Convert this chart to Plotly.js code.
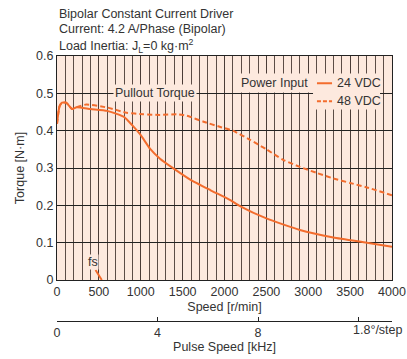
<!DOCTYPE html>
<html><head><meta charset="utf-8">
<script src="https://cdn.plot.ly/plotly-3.0.1.min.js"></script>
<style>html,body{margin:0;padding:0;background:#fff;}#chart{width:407px;height:359px;}</style>
</head><body><div id="chart"></div>
<script>
// Speed [r/min] and torque [N·m]
const speed24 = [0, 30, 60, 110, 180, 235, 400, 600, 800, 900, 1000, 1110, 1230, 1390, 1590, 1830, 2070, 2185, 2500, 2900, 3300, 3700, 4000];
const torque24 = [0.418, 0.465, 0.475, 0.475, 0.458, 0.463, 0.458, 0.453, 0.437, 0.414, 0.388, 0.352, 0.325, 0.299, 0.269, 0.241, 0.214, 0.198, 0.165, 0.134, 0.114, 0.100, 0.089];
const speed48 = [0, 30, 60, 110, 180, 235, 350, 600, 830, 1030, 1230, 1430, 1550, 1750, 1950, 2100, 2300, 2500, 2700, 2900, 3100, 3300, 3500, 3700, 4000];
const torque48 = [0.418, 0.465, 0.475, 0.475, 0.458, 0.463, 0.470, 0.462, 0.448, 0.444, 0.442, 0.444, 0.440, 0.424, 0.410, 0.400, 0.376, 0.350, 0.322, 0.303, 0.287, 0.272, 0.260, 0.248, 0.227];
const fsSpeed = [460, 535];
const fsTorque = [0.027, 0.0];
const xTicks = [0, 500, 1000, 1500, 2000, 2500, 3000, 3500, 4000];
const pulseTicks = [0, 4, 8, 12];
const pulseTickText = ['0', '4', '8', ' '];
const seriesNames = ['24 VDC', '48 VDC'];

const ORANGE = '#f36c2d';
const BG = '#fde9de';
const FONT = 'Liberation Sans, Arial, sans-serif';
const TXT = '#333';
const FS = 12.5;

const traces = [
  {x: speed24, y: torque24, type: 'scatter', mode: 'lines', name: seriesNames[0],
   line: {color: ORANGE, width: 2, shape: 'spline', smoothing: 0.5}, showlegend: false, hoverinfo: 'skip'},
  {x: speed48, y: torque48, type: 'scatter', mode: 'lines', name: seriesNames[1],
   line: {color: ORANGE, width: 2, dash: '5px,3px', shape: 'spline', smoothing: 0.5}, showlegend: false, hoverinfo: 'skip'},
  {x: fsSpeed, y: fsTorque, type: 'scatter', mode: 'lines', name: 'fs',
   line: {color: ORANGE, width: 2}, showlegend: false, hoverinfo: 'skip'},
  {x: [0], y: [null], xaxis: 'x2', yaxis: 'y', type: 'scatter', mode: 'lines', showlegend: false, hoverinfo: 'skip'}
];

const P = (px) => (321 - px) / 265; // paper y from pixel

const layout = {
  width: 407, height: 359,
  margin: {l: 57, r: 15, t: 56, b: 38, pad: 0},
  paper_bgcolor: '#ffffff', plot_bgcolor: BG,
  font: {family: FONT, size: FS, color: TXT},
  showlegend: false,
  xaxis: {
    range: [0, 4000], tickvals: xTicks, anchor: 'y',
    showgrid: true, gridcolor: '#4a3b36', gridwidth: 1,
    minor: {dtick: 100, showgrid: true, gridcolor: '#5c4c46', gridwidth: 1},
    showline: true, mirror: true, linecolor: '#222', linewidth: 1,
    zeroline: false, ticks: '', tickfont: {size: FS, color: TXT},
    title: {text: 'Speed [r/min]', font: {size: FS, color: TXT}, standoff: 4}
  },
  xaxis2: {
    overlaying: 'x', anchor: 'free', position: 0, side: 'bottom',
    range: [0, 40 / 3], tickvals: pulseTicks, ticktext: pulseTickText,
    ticks: 'inside', ticklen: 4, tickcolor: '#222',
    showline: true, linecolor: '#222', linewidth: 1, showgrid: false, zeroline: false,
    tickfont: {size: FS, color: TXT},
    title: {text: 'Pulse Speed [kHz]', font: {size: FS, color: TXT}, standoff: 2}
  },
  yaxis: {
    domain: [0.1547, 1], range: [0, 0.6], dtick: 0.1,
    showgrid: true, gridcolor: '#222', gridwidth: 1,
    showline: true, mirror: true, linecolor: '#222', linewidth: 1,
    zeroline: false, ticks: '', tickfont: {size: FS, color: TXT},
    title: {text: 'Torque [N·m]', font: {size: FS, color: TXT}, standoff: 8}
  },
  shapes: [
    {type: 'rect', xref: 'x', yref: 'y', x0: 3057, x1: 3857, y0: 0.457, y1: 0.553,
     fillcolor: BG, line: {width: 0}, layer: 'above'},
    {type: 'line', xref: 'x', yref: 'y', x0: 3104, x1: 3284, y0: 0.527, y1: 0.527,
     line: {color: ORANGE, width: 2}},
    {type: 'line', xref: 'x', yref: 'y', x0: 3104, x1: 3284, y0: 0.479, y1: 0.479,
     line: {color: ORANGE, width: 2, dash: '4px,2px'}}
  ],
  annotations: [
    {text: 'Bipolar Constant Current Driver', xref: 'paper', yref: 'paper', x: 0, y: P(14), xanchor: 'left', yanchor: 'middle', showarrow: false},
    {text: 'Current: 4.2 A/Phase (Bipolar)', xref: 'paper', yref: 'paper', x: 0, y: P(29), xanchor: 'left', yanchor: 'middle', showarrow: false},
    {text: 'Load Inertia: J<sub>L</sub>=0 kg·m<sup>2</sup>', xref: 'paper', yref: 'paper', x: 0, y: P(46), xanchor: 'left', yanchor: 'middle', showarrow: false},
    {text: 'Pullout Torque', xref: 'x', yref: 'y', x: 1170, y: 0.5, xanchor: 'center', yanchor: 'middle', showarrow: false, bgcolor: BG, borderpad: 1},
    {text: 'Power Input', xref: 'x', yref: 'y', x: 2597, y: 0.527, xanchor: 'center', yanchor: 'middle', showarrow: false, bgcolor: BG, borderpad: 2},
    {text: seriesNames[0], xref: 'x', yref: 'y', x: 3319, y: 0.527, xanchor: 'left', yanchor: 'middle', showarrow: false},
    {text: seriesNames[1], xref: 'x', yref: 'y', x: 3319, y: 0.479, xanchor: 'left', yanchor: 'middle', showarrow: false},
    {text: 'fs', xref: 'x', yref: 'y', x: 426, y: 0.049, xanchor: 'center', yanchor: 'middle', showarrow: false, bgcolor: BG, borderpad: 0},
    {text: '1.8°/step', xref: 'paper', yref: 'paper', x: (405 - 57) / 335, y: P(330), xanchor: 'right', yanchor: 'middle', showarrow: false}
  ]
};

Plotly.newPlot('chart', traces, layout, {staticPlot: true, displayModeBar: false});
</script>
</body></html>
